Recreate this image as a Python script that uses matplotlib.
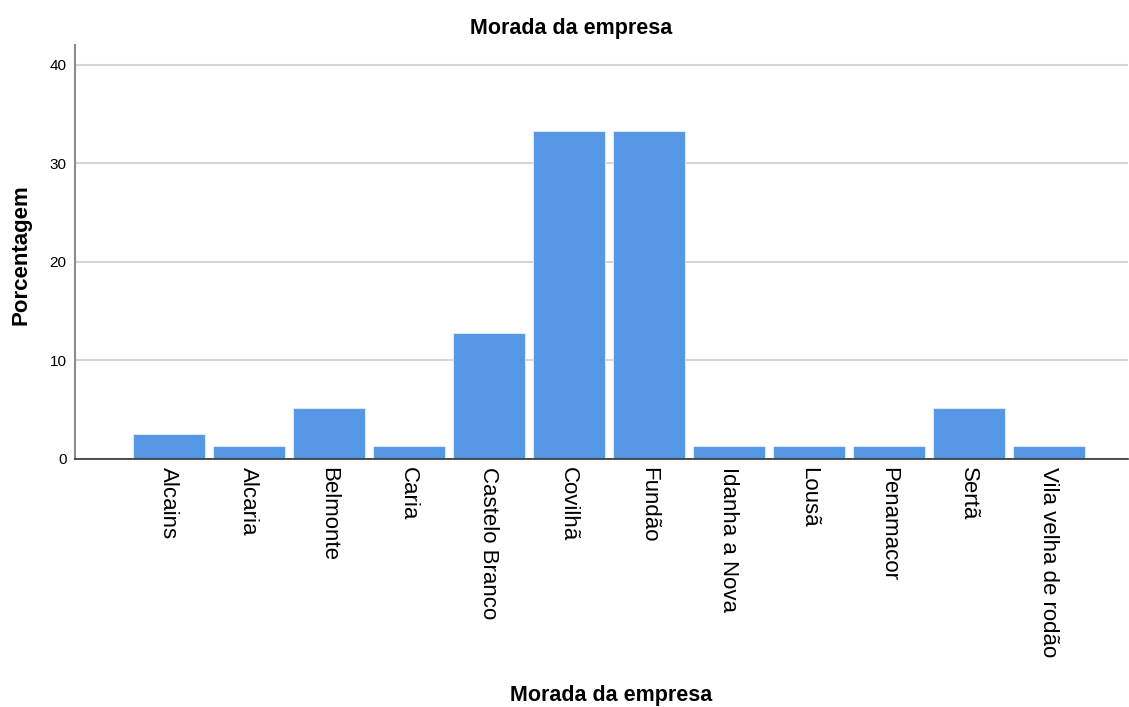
import matplotlib
matplotlib.use('Agg')
import matplotlib.pyplot as plt
import numpy as np

plt.rcParams['font.family'] = ['Liberation Sans', 'DejaVu Sans']

# Morada da empresa, n = 78
cidades = ['Alcains', 'Alcaria', 'Belmonte', 'Caria', 'Castelo Branco', 'Covilhã',
           'Fundão', 'Idanha a Nova', 'Lousã', 'Penamacor', 'Sertã', 'Vila velha de rodão']
contagens = [2, 1, 4, 1, 10, 26, 26, 1, 1, 1, 4, 1]
percentagem = [100.0 * c / sum(contagens) for c in contagens]
yticks = [0, 10, 20, 30, 40]

fig = plt.figure(figsize=(11.29, 7.07), dpi=100)
ax = fig.add_axes([0.0664, 0.351, 0.9326, 0.585])

x = np.arange(len(cidades))
ax.bar(x, percentagem, width=0.9, color='#5596e5', edgecolor='#dbe8f8', linewidth=0.8, zorder=3)

ax.set_xlim(-1.175, 11.99)
ax.set_ylim(0, 42.0)
ax.set_yticks(yticks)
ax.yaxis.grid(True, color='#d4d4d4', linewidth=1.5, zorder=0)
ax.set_xticks(x)
ax.set_xticklabels(cidades, rotation=270, fontsize=16, va='top', ha='center')
ax.tick_params(axis='x', length=0, pad=6)
ax.tick_params(axis='y', length=0, labelsize=11, pad=6)

for s in ['top', 'right']:
    ax.spines[s].set_visible(False)
ax.spines['left'].set_color('#8c8c8c')
ax.spines['left'].set_linewidth(1.5)
ax.spines['bottom'].set_color('#333333')
ax.spines['bottom'].set_linewidth(1.2)
ax.spines['bottom'].set_zorder(4)

fig.text(0.506, 0.96, 'Morada da empresa', ha='center', va='center', fontsize=15.5, fontweight='bold')
fig.text(0.541, 0.016, 'Morada da empresa', ha='center', va='center', fontsize=15.5, fontweight='bold')
fig.text(0.019, 0.64, 'Porcentagem', ha='center', va='center', rotation=90, fontsize=16, fontweight='bold')

plt.savefig('out.png', dpi=100)
plt.close()
